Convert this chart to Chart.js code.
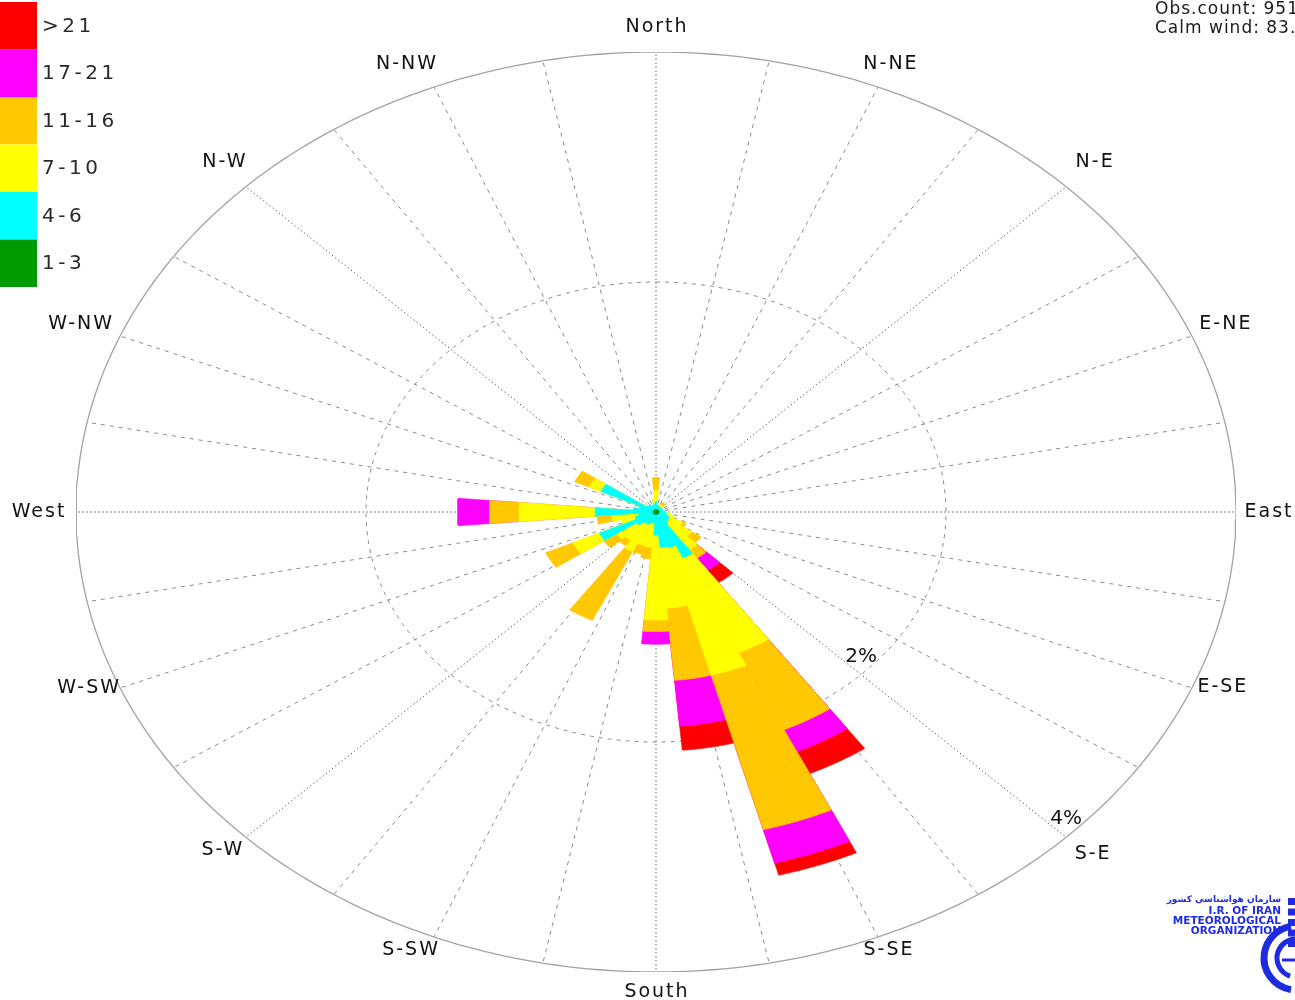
<!DOCTYPE html>
<html>
<head>
<meta charset="utf-8">
<title>Wind rose</title>
<script src="https://cdn.jsdelivr.net/npm/chart.js@4/dist/chart.umd.min.js"></script>
<style>
  html, body { margin: 0; padding: 0; background: #fff; overflow: hidden; }
  canvas { display: block; }
</style>
</head>
<body>
<canvas id="rose" width="1295" height="1000"></canvas>
<script>
// Wind direction bins (degrees, clockwise from north)
const directions = [0, 10, 20, 30, 40, 50, 60, 70, 80, 90, 100, 110, 120, 130, 140, 150, 160, 170,
                    180, 190, 200, 210, 220, 230, 240, 250, 260, 270, 280, 290, 300, 310, 320, 330, 340, 350];

// Speed classes (knots) and their frequencies (%) per direction bin
const speedClasses = ['1-3', '4-6', '7-10', '11-16', '17-21', '>21'];
const freq1to3   = [0.02,0.02,0.02,0.02,0.02,0.02,0.02,0.02,0.02,0.02,0.02,0.02,0.02,0.02,0.02,0.02,0.02,0.02,
                    0.02,0.02,0.02,0.02,0.02,0.02,0.02,0.02,0.02,0.02,0.02,0.02,0.02,0.02,0.02,0.02,0.02,0.02];
const freq4to6   = [0.07,0.04,0.04,0.03,0.03,0.03,0.03,0.03,0.03,0.04,0.05,0.06,0.08,0.08,0.10,0.42,0.30,0.29,
                    0.18,0.08,0.08,0.10,0.10,0.14,0.41,0.13,0.10,0.40,0.14,0.10,0.40,0.06,0.05,0.05,0.04,0.05];
const freq7to10  = [0.10,0.00,0.00,0.02,0.02,0.00,0.00,0.00,0.00,0.00,0.03,0.05,0.10,0.20,0.28,0.91,1.15,0.53,
                    0.74,0.21,0.20,0.26,0.18,0.17,0.20,0.10,0.19,0.525,0.00,0.00,0.09,0.00,0.00,0.00,0.00,0.03];
const freq11to16 = [0.11,0.00,0.00,0.02,0.02,0.00,0.00,0.00,0.00,0.00,0.00,0.00,0.03,0.08,0.09,0.74,1.39,0.63,
                    0.10,0.10,0.08,0.66,0.06,0.11,0.21,0.00,0.10,0.205,0.00,0.00,0.11,0.00,0.00,0.00,0.00,0.00];
const freq17to21 = [0.00,0.00,0.00,0.00,0.00,0.00,0.00,0.00,0.00,0.00,0.00,0.00,0.00,0.00,0.13,0.21,0.30,0.40,
                    0.11,0.00,0.00,0.00,0.00,0.00,0.00,0.00,0.00,0.22,0.00,0.00,0.00,0.00,0.00,0.00,0.00,0.00];
const freqOver21 = [0.00,0.00,0.00,0.00,0.00,0.00,0.00,0.00,0.00,0.00,0.00,0.00,0.00,0.00,0.13,0.21,0.11,0.21,
                    0.00,0.00,0.00,0.00,0.00,0.00,0.00,0.00,0.00,0.00,0.00,0.00,0.00,0.00,0.00,0.00,0.00,0.00];

const classColors = ['#009900', '#00ffff', '#ffff00', '#ffc800', '#ff00ff', '#ff0000'];

// Compass point labels (every 22.5 degrees) and ring ticks (%)
const compassLabels = ['North', 'N-NE', 'N-E', 'E-NE', 'East', 'E-SE', 'S-E', 'S-SE',
                       'South', 'S-SW', 'S-W', 'W-SW', 'West', 'W-NW', 'N-W', 'N-NW'];
const ringTicks = [2, 4];
const infoLines = ['Obs.count: 951', 'Calm wind: 83.'];
const orgLines = ['سازمان هواشناسی کشور', 'I.R. OF IRAN', 'METEOROLOGICAL', 'ORGANIZATION'];

const series = [freq1to3, freq4to6, freq7to10, freq11to16, freq17to21, freqOver21];
const RMAX = ringTicks[ringTicks.length - 1];
const BIN_HALF = 5;
const SPOKES = 32;

// pixel nudges of each compass label away from its spoke end
const labelNudge = [[0, -27], [12, -25], [28, -27], [33, -14], [32, -2], [30, -3], [26, 15], [10, 11],
                    [0, 18], [-24, 11], [-24, 11], [-32, -2], [-38, -2], [-40, -14], [-22, -27], [-28, -25]];

// polar (percent, bearing) -> value space of the x/y scales
function polar(r, deg) {
  const a = deg * Math.PI / 180;
  return { x: r * Math.sin(a), y: r * Math.cos(a) };
}
function sector(r, dir) {
  const pts = [{ x: 0, y: 0 }];
  for (let a = dir - BIN_HALF; a <= dir + BIN_HALF + 1e-9; a += 0.5) pts.push(polar(r, a));
  pts.push({ x: 0, y: 0 });
  return pts;
}
function ring(r) {
  const pts = [];
  for (let a = 0; a <= 360; a += 1) pts.push(polar(r, a));
  return pts;
}

const datasets = [];

// grid: outer ellipse, inner ring, spokes
datasets.push({
  data: ring(RMAX), showLine: true, fill: false, pointRadius: 0,
  borderColor: '#a3a3a3', borderWidth: 1.3, order: 20
});
ringTicks.slice(0, -1).forEach(t => datasets.push({
  data: ring(t), showLine: true, fill: false, pointRadius: 0,
  borderColor: '#8a8a8a', borderWidth: 1, borderDash: [4, 5], order: 20
}));
for (let s = 0; s < SPOKES; s++) {
  const deg = s * 360 / SPOKES;
  const major = s % 4 === 0;
  datasets.push({
    data: [{ x: 0, y: 0 }, polar(RMAX, deg)], showLine: true, fill: false, pointRadius: 0,
    borderColor: major ? '#666' : '#8a8a8a', borderWidth: 1,
    borderDash: major ? [1.5, 2.5] : [4, 5], order: 20
  });
}

// stacked bars: cumulative sectors, outermost class underneath
directions.forEach((dir, i) => {
  let cum = 0;
  series.forEach((vals, k) => {
    cum += vals[i];
    if (vals[i] <= 0) return;
    datasets.push({
      label: speedClasses[k],
      data: sector(cum, dir), showLine: true, fill: 'shape', pointRadius: 0,
      backgroundColor: classColors[k], borderColor: classColors[k], borderWidth: 0.6,
      order: k + 1
    });
  });
});

const roseText = {
  id: 'roseText',
  afterDraw(chart) {
    const { ctx, scales: { x, y } } = chart;
    const px = p => [x.getPixelForValue(p.x), y.getPixelForValue(p.y)];
    ctx.save();

    // compass labels
    ctx.fillStyle = '#111';
    ctx.font = '19px "DejaVu Sans"';
    ctx.letterSpacing = '2px';
    ctx.textAlign = 'center';
    ctx.textBaseline = 'middle';
    compassLabels.forEach((t, i) => {
      const [cx, cy] = px(polar(RMAX, i * 22.5));
      ctx.fillText(t, cx + labelNudge[i][0] + 1, cy + labelNudge[i][1] + 2);
    });

    // ring values along the south-east spoke
    ctx.font = '20px "DejaVu Sans"';
    ctx.letterSpacing = '0px';
    ctx.textBaseline = 'bottom';
    ringTicks.forEach(t => {
      const [cx, cy] = px(polar(t, 135));
      ctx.fillText(t + '%', cx, cy - 8);
    });

    // legend
    const boxH = 47.5;
    ctx.textAlign = 'left';
    ctx.textBaseline = 'middle';
    ctx.font = '20px "DejaVu Sans"';
    ctx.letterSpacing = '3.5px';
    for (let k = speedClasses.length - 1, row = 0; k >= 0; k--, row++) {
      const top = 2 + row * boxH;
      ctx.fillStyle = classColors[k];
      ctx.fillRect(0, top, 37, boxH);
      ctx.fillStyle = '#2a2a2a';
      ctx.fillText(speedClasses[k], 42, top + boxH / 2 + 1);
    }

    // observation info
    ctx.font = '17px "DejaVu Sans"';
    ctx.letterSpacing = '1px';
    ctx.fillStyle = '#1a1a1a';
    infoLines.forEach((t, j) => ctx.fillText(t, 1155, 10 + j * 19));

    // organisation mark
    ctx.letterSpacing = '0px';
    ctx.fillStyle = '#1f2be0';
    ctx.textAlign = 'right';
    ctx.font = 'bold 9px "DejaVu Sans"';
    ctx.fillText(orgLines[0], 1281, 900);
    ctx.font = 'bold 10.5px "DejaVu Sans"';
    ctx.fillText(orgLines[1], 1281, 911);
    ctx.fillText(orgLines[2], 1281, 921);
    ctx.fillText(orgLines[3], 1281, 931);
    for (let j = 0; j < 5; j++) ctx.fillRect(1288, 898 + j * 10.5, 7, 7);
    ctx.strokeStyle = '#1f2be0';
    ctx.lineWidth = 7;
    ctx.beginPath(); ctx.arc(1296, 958, 32, Math.PI * 0.55, Math.PI * 1.45); ctx.stroke();
    ctx.lineWidth = 5;
    ctx.beginPath(); ctx.arc(1296, 958, 19, Math.PI * 0.6, Math.PI * 1.5); ctx.stroke();
    ctx.lineWidth = 3;
    ctx.beginPath(); ctx.moveTo(1282, 960); ctx.lineTo(1295, 960); ctx.stroke();
    ctx.restore();
  }
};

new Chart(document.getElementById('rose'), {
  type: 'scatter',
  data: { datasets },
  options: {
    responsive: false,
    animation: false,
    devicePixelRatio: 1,
    layout: { padding: { left: 76, right: 59, top: 52, bottom: 28 } },
    scales: {
      x: { type: 'linear', min: -RMAX, max: RMAX, display: false },
      y: { type: 'linear', min: -RMAX, max: RMAX, display: false }
    },
    elements: { line: { tension: 0 } },
    plugins: { legend: { display: false }, tooltip: { enabled: false } }
  },
  plugins: [roseText]
});
</script>
</body>
</html>
